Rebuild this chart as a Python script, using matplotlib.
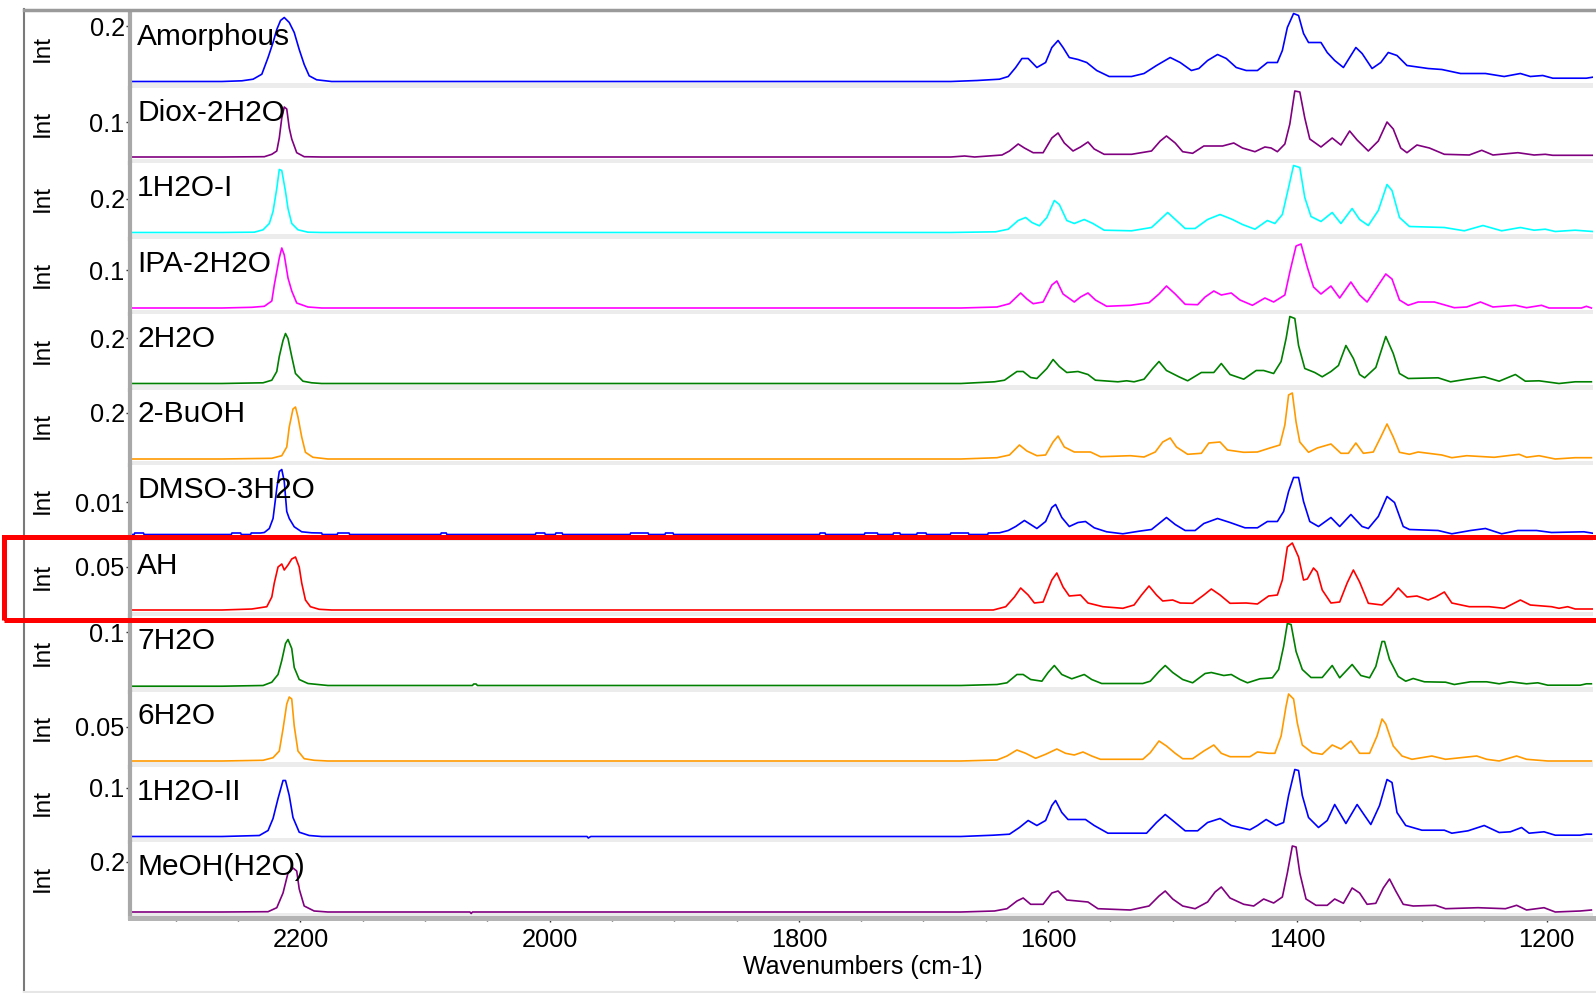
import numpy as np
import matplotlib.pyplot as plt
from matplotlib.patches import Rectangle
from matplotlib.lines import Line2D
from matplotlib.ticker import MultipleLocator

plt.rcParams['font.family'] = ['Liberation Sans', 'DejaVu Sans']

# sample names, top to bottom
names = ['Amorphous', 'Diox-2H2O', '1H2O-I', 'IPA-2H2O', '2H2O', '2-BuOH',
         'DMSO-3H2O', 'AH', '7H2O', '6H2O', '1H2O-II', 'MeOH(H2O)']
colors = ['#0000ff', '#800080', '#00ffff', '#ff00ff', '#008000', '#ff9a00',
          '#0000ff', '#ff0000', '#008000', '#ff9a00', '#0000ff', '#800080']
# labelled y tick of each panel and its level in the a.u. readings below
tick_vals = [0.2, 0.1, 0.2, 0.1, 0.2, 0.2, 0.01, 0.05, 0.1, 0.05, 0.1, 0.2]
tick_level = [55.5, 35, 33.5, 38, 45.5, 46, 32.5, 43, 53.5, 34, 48.5, 50]

# spectra: (wavenumber cm-1, intensity a.u.)
amorphous = [(2337, 0), (2263, 0), (2247, 0.7), (2238, 2.3), (2231, 7.3), (2226, 24), (2222, 39), (2219, 52),
             (2216, 61), (2213, 64), (2209, 59), (2205, 49), (2201, 32), (2197, 17), (2193, 5.7), (2187, 1.7),
             (2175, 0), (1678, 0), (1657, 1), (1639, 2.3), (1632, 5), (1626, 14), (1621, 23), (1616, 23),
             (1609, 14), (1602, 19), (1597, 34), (1592, 41), (1588, 34), (1583, 24), (1576, 22), (1569, 19),
             (1561, 11), (1551, 5), (1533, 5), (1523, 8), (1513, 16), (1502, 24), (1494, 19), (1485, 11),
             (1479, 13), (1472, 21), (1464, 27), (1457, 23), (1449, 14), (1441, 11), (1432, 11), (1424, 19),
             (1416, 19), (1412, 31), (1408, 54), (1403, 68), (1399, 66), (1395, 48), (1391, 39), (1381, 39),
             (1376, 29), (1370, 21), (1363, 14), (1358, 24), (1353, 34), (1348, 28), (1340, 13), (1333, 19),
             (1327, 29), (1320, 26), (1312, 16), (1295, 13), (1284, 12), (1269, 8), (1249, 8), (1234, 5),
             (1221, 8), (1213, 5), (1203, 6), (1195, 3.3), (1168, 3.3), (1163, 4.3)]

diox_2h2o = [(2337, 0), (2263, 0), (2229, 0.3), (2223, 2.7), (2219, 6), (2217, 19), (2215, 39), (2213, 50),
             (2211, 48), (2209, 29), (2207, 18), (2203, 4.3), (2197, 0.3), (2183, 0), (1678, 0), (1667, 1),
             (1659, 0), (1637, 2), (1631, 6), (1624, 13), (1619, 9), (1612, 4.3), (1604, 4.3), (1597, 19),
             (1592, 24), (1587, 14), (1580, 6), (1574, 10), (1568, 15), (1563, 8), (1555, 2.7), (1533, 2.7),
             (1517, 6), (1510, 16), (1505, 21), (1498, 14), (1492, 5.3), (1484, 3.7), (1475, 11), (1460, 11),
             (1451, 14), (1444, 9), (1434, 5.3), (1426, 10), (1421, 9), (1416, 5.3), (1410, 13), (1406, 33),
             (1402, 66), (1398, 65), (1394, 39), (1390, 18), (1381, 10), (1372, 19), (1365, 12), (1358, 26),
             (1352, 17), (1343, 6), (1335, 16), (1328, 35), (1323, 28), (1317, 9), (1312, 4.3), (1304, 12),
             (1294, 9), (1282, 2.7), (1262, 2), (1252, 6.7), (1243, 2), (1223, 4.3), (1210, 2), (1201, 2.7),
             (1195, 1.7), (1163, 1.7)]

h2o_1_form1 = [(2337, 0), (2263, 0), (2237, 0.3), (2230, 2.7), (2225, 9), (2222, 21), (2219, 44), (2217, 63),
               (2215, 62), (2212, 41), (2210, 24), (2207, 9), (2202, 2.7), (2194, 0.3), (2183, 0), (1678, 0),
               (1642, 0.7), (1632, 3.3), (1624, 12), (1618, 15), (1613, 10), (1607, 6.7), (1601, 15), (1595, 32),
               (1591, 28), (1585, 12), (1579, 9), (1571, 13), (1564, 9), (1555, 2.3), (1533, 1.7), (1517, 5),
               (1510, 13), (1504, 20), (1497, 12), (1490, 4), (1482, 4), (1472, 13), (1462, 18), (1452, 13),
               (1444, 8), (1434, 3.3), (1424, 12), (1418, 9), (1412, 18), (1407, 45), (1403, 67), (1398, 65),
               (1394, 35), (1389, 16), (1381, 11), (1372, 20), (1365, 9), (1356, 24), (1350, 13), (1343, 7),
               (1335, 22), (1328, 48), (1324, 42), (1318, 15), (1310, 6), (1282, 5), (1266, 1.7), (1251, 7),
               (1236, 1.7), (1221, 5), (1210, 2.3), (1201, 3.3), (1193, 1), (1177, 2.3), (1163, 1)]

ipa_2h2o = [(2337, 0), (2263, 0), (2239, 0.7), (2229, 1.7), (2223, 7), (2221, 23), (2217, 50), (2215, 60),
            (2213, 53), (2210, 30), (2207, 17), (2203, 5), (2194, 1), (2183, 0), (1670, 0), (1641, 1),
            (1631, 4.3), (1622, 15), (1617, 9), (1612, 4.3), (1604, 6), (1597, 23), (1593, 27), (1588, 14),
            (1579, 6), (1574, 11), (1568, 15), (1562, 8), (1553, 1.7), (1534, 2.7), (1519, 5.3), (1511, 14),
            (1505, 22), (1498, 14), (1490, 3.7), (1480, 3.3), (1474, 11), (1467, 17), (1461, 13), (1453, 15),
            (1446, 8), (1436, 2.7), (1426, 10), (1419, 6), (1410, 13), (1406, 36), (1401, 62), (1397, 64),
            (1392, 41), (1387, 21), (1381, 14), (1373, 22), (1366, 10), (1357, 26), (1350, 13), (1344, 6),
            (1336, 21), (1329, 34), (1324, 29), (1318, 8), (1311, 2.7), (1303, 6), (1290, 6), (1274, 0.3),
            (1264, 1), (1253, 6), (1243, 1), (1225, 2.7), (1216, 0.3), (1204, 2.7), (1198, 0), (1172, 0),
            (1168, 1.7), (1164, 0)]

h2o_2 = [(2337, 0), (2263, 0), (2230, 0.7), (2223, 3.3), (2219, 12), (2217, 27), (2214, 43), (2212, 50),
         (2210, 45), (2207, 27), (2204, 10), (2198, 2.3), (2191, 0.7), (2183, 0), (1670, 0), (1643, 1.7),
         (1635, 3.3), (1625, 12), (1620, 12), (1614, 6), (1609, 5), (1601, 15), (1596, 24), (1591, 17),
         (1585, 11), (1576, 12), (1568, 9), (1562, 3.3), (1544, 1.7), (1537, 2.7), (1531, 1.7), (1523, 4.3),
         (1516, 15), (1511, 22), (1505, 13), (1495, 6.7), (1488, 2.7), (1477, 11), (1467, 11), (1461, 20),
         (1454, 9), (1443, 4.3), (1433, 13), (1427, 13), (1419, 10), (1413, 22), (1409, 45), (1406, 67),
         (1402, 65), (1399, 38), (1394, 15), (1386, 11), (1380, 6.7), (1373, 12), (1367, 18), (1361, 38),
         (1355, 25), (1350, 9), (1346, 5.7), (1337, 16), (1329, 47), (1323, 30), (1318, 10), (1311, 5),
         (1287, 5.7), (1277, 1.7), (1264, 4.3), (1250, 6.7), (1238, 2.3), (1225, 9), (1217, 2.3), (1206, 2.7),
         (1190, 0), (1177, 1.7), (1164, 1.7)]

buoh_2 = [(2337, 0), (2263, 0), (2223, 0.7), (2215, 3.3), (2211, 12), (2209, 32), (2206, 50), (2204, 52),
          (2202, 42), (2199, 22), (2196, 6.7), (2190, 1.7), (2178, 0), (1670, 0), (1641, 1.3), (1631, 4),
          (1623, 14), (1617, 8), (1609, 3.3), (1602, 4), (1596, 17), (1592, 23), (1587, 12), (1579, 7),
          (1566, 7), (1558, 2.3), (1534, 3.3), (1523, 2), (1514, 7), (1508, 17), (1502, 21), (1497, 12),
          (1488, 4.7), (1477, 5.7), (1471, 16), (1462, 17), (1456, 9), (1443, 6.7), (1432, 7), (1422, 11),
          (1414, 14), (1410, 34), (1407, 64), (1404, 66), (1401, 37), (1398, 17), (1391, 6.7), (1384, 11),
          (1373, 15), (1365, 5.7), (1359, 5.7), (1353, 16), (1347, 5.7), (1339, 7), (1333, 22), (1328, 35),
          (1323, 22), (1318, 6.7), (1310, 4.7), (1303, 7), (1284, 4), (1276, 1.3), (1264, 3.3), (1242, 1.7),
          (1222, 4.7), (1216, 1.7), (1206, 3.3), (1193, 0), (1177, 1.3), (1164, 1.3)]

dmso_3h2o = [(2337, 0), (2333.5, 0), (2333, 1.5), (2326, 1.5), (2325.5, 0), (2255.5, 0), (2255, 1.5),
             (2248, 1.5), (2247.5, 0), (2240, 0), (2239.5, 1.5), (2232, 1.5), (2229, 2), (2225, 6), (2222, 16),
             (2219, 46), (2217, 63), (2215, 65), (2213, 53), (2211, 23), (2209, 16), (2205, 7.7), (2199, 2.7),
             (2191, 1.7), (2183, 1.5), (2182.5, 0), (2170.5, 0), (2170, 1.5), (2161, 1.5), (2160.5, 0),
             (2087.5, 0), (2087, 1.5), (2083, 1.5), (2082.5, 0), (2011.5, 0), (2011, 1.5), (2004, 1.5),
             (2003.5, 0), (1995.5, 0), (1995, 1.5), (1990, 1.5), (1989.5, 0), (1935.5, 0), (1935, 1.5),
             (1921, 1.5), (1920.5, 0), (1907.5, 0), (1907, 1.5), (1901, 1.5), (1900.5, 0), (1783.5, 0),
             (1783, 1.5), (1779, 1.5), (1778.5, 0), (1747.5, 0), (1747, 1.5), (1737, 1.5), (1736.5, 0),
             (1724.5, 0), (1724, 1.5), (1719, 1.5), (1718.5, 0), (1705.5, 0), (1705, 1.5), (1698, 1.5),
             (1697.5, 0), (1678.5, 0), (1678, 1.5), (1664, 1.5), (1663.5, 0), (1648.5, 0), (1648, 1.5),
             (1639, 1.7), (1632, 4), (1626, 8), (1619, 14), (1614, 10), (1609, 6), (1602, 13), (1597, 27),
             (1594, 30), (1589, 17), (1583, 8), (1576, 12), (1570, 13), (1563, 6.7), (1553, 2.7), (1540, 0.7),
             (1527, 3.3), (1517, 5), (1510, 12), (1505, 17), (1498, 10), (1490, 4), (1482, 4), (1475, 11),
             (1464, 16), (1454, 12), (1442, 6.7), (1432, 6.7), (1424, 13), (1416, 13), (1411, 23), (1407, 43),
             (1403, 57), (1399, 57), (1395, 33), (1390, 13), (1383, 8), (1373, 17), (1366, 8), (1357, 20),
             (1348, 8), (1343, 6), (1335, 18), (1328, 38), (1322, 32), (1315, 8), (1310, 5), (1287, 4),
             (1276, 0.7), (1261, 4), (1249, 6), (1236, 0.7), (1223, 4), (1208, 4), (1196, 2), (1170, 2.7),
             (1163, 1.3)]

ah = [(2337, 0), (2263, 0), (2239, 1), (2227, 3.3), (2223, 13), (2221, 27), (2218, 43), (2215, 46), (2213, 40),
      (2210, 45), (2207, 51), (2204, 53), (2201, 43), (2199, 27), (2196, 10), (2192, 3.3), (2185, 0.7),
      (2175, 0), (1678, 0), (1644, 0), (1634, 3.3), (1627, 13), (1622, 22), (1616, 15), (1611, 7), (1604, 8),
      (1597, 30), (1593, 37), (1588, 23), (1583, 14), (1574, 15), (1568, 7), (1556, 3.3), (1540, 1.7),
      (1531, 5), (1525, 15), (1519, 24), (1513, 15), (1508, 9), (1500, 10), (1494, 7), (1484, 6.7),
      (1475, 15), (1469, 21), (1462, 15), (1454, 6.7), (1441, 7), (1432, 6), (1423, 14), (1416, 15),
      (1412, 30), (1408, 63), (1404, 67), (1399, 53), (1395, 30), (1392, 31), (1387, 42), (1384, 38),
      (1380, 20), (1373, 7), (1366, 8), (1360, 27), (1355, 40), (1350, 28), (1343, 6.7), (1332, 5),
      (1325, 13), (1319, 22), (1312, 13), (1304, 14), (1295, 10), (1289, 13), (1282, 18), (1276, 7),
      (1262, 3.3), (1246, 3.3), (1234, 1.7), (1221, 10), (1213, 5), (1196, 3.3), (1190, 1.7), (1183, 3.3),
      (1177, 1), (1163, 1)]

h2o_7 = [(2337, -0.7), (2263, -0.7), (2230, 0), (2223, 3.3), (2218, 11), (2215, 25), (2212, 42), (2210, 46),
         (2207, 37), (2205, 18), (2201, 6), (2194, 2), (2186, 1), (2178, 0), (2062, 0), (2061, 1.5),
         (2059, 1.5), (2058, 0), (1670, 0), (1641, 1), (1633, 2.7), (1625, 11), (1620, 11), (1614, 6),
         (1605, 4.3), (1600, 13), (1595, 20), (1589, 11), (1581, 6.7), (1571, 11), (1565, 6), (1557, 2),
         (1524, 2), (1518, 4.3), (1511, 14), (1506, 20), (1500, 13), (1492, 6), (1484, 2.7), (1474, 12),
         (1469, 13), (1459, 10), (1453, 11), (1446, 6), (1440, 2.7), (1430, 6.7), (1420, 7.7), (1415, 16),
         (1411, 39), (1408, 62), (1405, 61), (1401, 34), (1396, 16), (1389, 8), (1380, 8), (1372, 20),
         (1366, 7.7), (1356, 21), (1349, 10), (1342, 7.7), (1337, 19), (1332, 44), (1330, 44), (1326, 26),
         (1319, 9), (1313, 4.3), (1307, 7), (1298, 3.7), (1281, 3.3), (1274, 1), (1261, 3.7), (1248, 3.7),
         (1238, 1.7), (1229, 3.7), (1216, 1.7), (1207, 2.7), (1199, 0.3), (1173, 0.3), (1168, 1.7),
         (1164, 1.7)]

h2o_6 = [(2337, 0), (2263, 0), (2230, 0.7), (2222, 3.3), (2217, 10), (2214, 32), (2211, 57), (2209, 64),
         (2207, 62), (2205, 35), (2202, 10), (2197, 2.3), (2189, 0.7), (2178, 0), (1670, 0), (1641, 1),
         (1633, 5), (1625, 11), (1618, 7.7), (1610, 2.7), (1602, 6.7), (1593, 12), (1586, 7.7), (1579, 6),
         (1572, 9), (1565, 5), (1558, 1.7), (1524, 1.7), (1518, 8.3), (1511, 20), (1505, 15), (1498, 7.7),
         (1492, 2.3), (1484, 2.3), (1475, 10), (1467, 16), (1461, 7.7), (1454, 4.3), (1438, 4.3), (1432, 9),
         (1423, 7.7), (1418, 7.7), (1413, 25), (1409, 55), (1407, 67), (1403, 62), (1400, 38), (1396, 16),
         (1388, 8.3), (1380, 6.7), (1372, 16), (1365, 12), (1357, 20), (1350, 7.7), (1342, 7.7), (1336, 25),
         (1332, 42), (1329, 37), (1323, 15), (1316, 5), (1308, 1.7), (1292, 5), (1281, 1.7), (1256, 5),
         (1248, 1.7), (1238, 0), (1224, 5), (1216, 1.7), (1199, 0), (1164, 0)]

h2o_1_form2 = [(2337, 0), (2263, 0), (2233, 1), (2226, 6), (2222, 18), (2218, 38), (2214, 56), (2212, 56),
               (2209, 41), (2206, 19), (2201, 4.3), (2193, 1), (2183, 0), (1970, 0), (1969, -1.5), (1967, 0),
               (1670, 0), (1644, 1.3), (1631, 2.3), (1623, 9), (1616, 16), (1609, 11), (1602, 16), (1597, 31),
               (1594, 36), (1589, 24), (1584, 17), (1576, 17), (1570, 17), (1563, 11), (1552, 3.3), (1521, 3.3),
               (1513, 14), (1506, 22), (1500, 16), (1490, 5.7), (1480, 5.7), (1472, 14), (1462, 18), (1453, 11),
               (1438, 6.7), (1432, 11), (1425, 17), (1417, 11), (1411, 14), (1407, 41), (1402, 67), (1399, 66),
               (1396, 41), (1391, 19), (1383, 9), (1376, 16), (1370, 32), (1361, 13), (1352, 32), (1346, 21),
               (1341, 12), (1334, 31), (1328, 57), (1324, 54), (1320, 24), (1313, 11), (1300, 6.3), (1282, 6.3),
               (1276, 3.3), (1263, 5.7), (1250, 11), (1238, 4), (1229, 4.7), (1220, 9), (1214, 3.3), (1202, 4.7),
               (1193, 1.3), (1173, 1.3), (1168, 2.3), (1164, 2.3)]

meoh_h2o = [(2337, 0), (2263, 0), (2226, 0.3), (2219, 4.3), (2214, 19), (2210, 39), (2206, 44), (2203, 41),
            (2201, 23), (2197, 6), (2189, 1), (2178, 0), (2064, 0), (2063, -1.5), (2062, 0), (1670, 0),
            (1643, 1), (1633, 3.3), (1625, 11), (1620, 14), (1614, 7.7), (1604, 7.7), (1597, 19), (1592, 21),
            (1585, 12), (1568, 10), (1560, 3.3), (1534, 2), (1519, 6), (1511, 16), (1506, 21), (1500, 13),
            (1492, 6), (1482, 3.3), (1472, 10), (1466, 20), (1461, 25), (1454, 14), (1443, 7.7), (1435, 6),
            (1427, 13), (1419, 9), (1412, 15), (1408, 39), (1404, 66), (1401, 65), (1398, 39), (1393, 13),
            (1385, 6.7), (1376, 6.7), (1370, 13), (1363, 8.7), (1356, 24), (1350, 19), (1344, 7.7), (1337, 8.7),
            (1331, 24), (1326, 33), (1321, 21), (1315, 7.7), (1307, 6), (1289, 6.7), (1281, 3.3), (1255, 4.3),
            (1233, 3.3), (1224, 6.7), (1216, 2), (1202, 4.3), (1193, 0), (1173, 1), (1164, 2)]

spectra = [amorphous, diox_2h2o, h2o_1_form1, ipa_2h2o, h2o_2, buoh_2,
           dmso_3h2o, ah, h2o_7, h2o_6, h2o_1_form2, meoh_h2o]

W, H = 1596, 993
fig = plt.figure(figsize=(W / 100, H / 100), dpi=100)
axes = fig.subplots(12, 1, sharex=True,
                    gridspec_kw=dict(hspace=0, left=130 / W, right=1593 / W,
                                     top=1 - 12 / H, bottom=1 - 918 / H))

panel_px = 906 / 12
for i, ax in enumerate(axes):
    wn, au = np.array(spectra[i], dtype=float).T
    scale = tick_vals[i] / tick_level[i]
    ax.plot(wn, au * scale, color=colors[i], lw=1.2, zorder=2)
    ax.set_ylim(-6 * scale, (panel_px - 6) * scale)
    ax.set_yticks([tick_vals[i]])
    ax.set_yticklabels([f'{tick_vals[i]:g}'])
    ax.yaxis.set_minor_locator(MultipleLocator(tick_vals[i] / round(tick_level[i] / 8.5)))
    ax.tick_params(axis='y', which='major', labelsize=18.3, length=3, width=1, pad=0.8, color='#333333')
    ax.tick_params(axis='y', which='minor', length=1.6, width=1, color='#333333')
    for s in ['top', 'right', 'bottom']:
        ax.spines[s].set_visible(False)
    ax.spines['left'].set_color('#a8a8a8')
    ax.spines['left'].set_linewidth(3)
    # light grey separator strip at the foot of each panel
    ax.add_patch(Rectangle((0, 0), 1, 4.5 / panel_px, transform=ax.transAxes,
                           facecolor='#ececec', edgecolor='none', zorder=0))
    ax.text(0.0048, 1 - 33 / panel_px, names[i], transform=ax.transAxes,
            va='baseline', ha='left', fontsize=21.5, zorder=3)
    top_px = 12 + panel_px * i
    fig.text(43 / W, 1 - (top_px + 36) / H, 'Int', rotation=90,
             ha='center', va='center', fontsize=17.5)
    if i < 11:
        ax.tick_params(axis='x', which='both', bottom=False, labelbottom=False)

ax = axes[-1]
ax.set_xlim(2336.8, 1162.7)
ax.xaxis.set_major_locator(MultipleLocator(200))
ax.xaxis.set_minor_locator(MultipleLocator(50))
ax.spines['bottom'].set_visible(True)
ax.spines['bottom'].set_color('#b4b4b4')
ax.spines['bottom'].set_linewidth(3.6)
ax.tick_params(axis='x', which='major', labelsize=18.3, length=3, width=1, pad=4.5, color='#333333')
ax.tick_params(axis='x', which='minor', length=2, width=1, color='#333333')
fig.text(863 / W, 1 - 967 / H, 'Wavenumbers (cm-1)', ha='center', va='center', fontsize=18)

# outer frame
fig.add_artist(Line2D([24 / W, 24 / W], [0, 1 - 9 / H], color='#7a7a7a', lw=1.5))
fig.add_artist(Line2D([24 / W, 1], [1 - 10 / H, 1 - 10 / H], color='#9a9a9a', lw=2.5))
fig.add_artist(Line2D([24 / W, 1], [1 - 992 / H, 1 - 992 / H], color='#e6e6e6', lw=1.5))

# red highlight box around AH
fig.add_artist(Rectangle((4 / W, 1 - 620 / H), 2, (620 - 537) / H, transform=fig.transFigure,
                         fill=False, edgecolor='#ff0000', lw=3.6, zorder=10))

fig.savefig('out.png', dpi=100)
